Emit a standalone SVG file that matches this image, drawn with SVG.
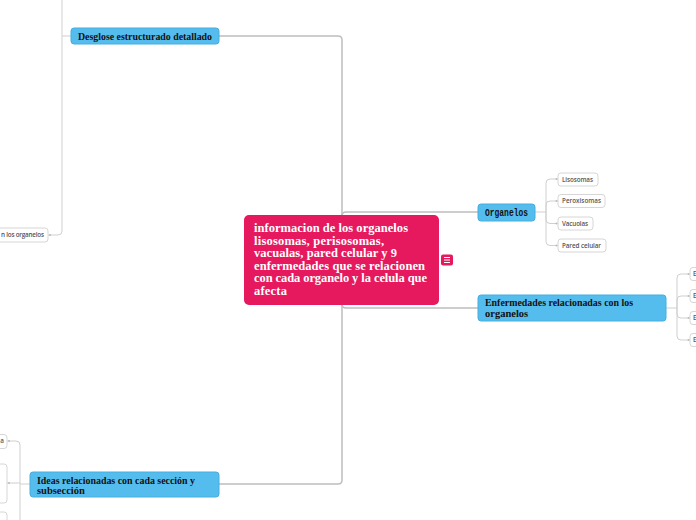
<svg xmlns="http://www.w3.org/2000/svg" width="696" height="520" viewBox="0 0 696 520">
<style>
.trunk{fill:none;stroke:#BDBDBD;stroke-width:1.5}
.thin{fill:none;stroke:#CFCFCF;stroke-width:1}
.dot{fill:#BDBDBD}
.blue{fill:#55BDED;stroke:#45AEE0;stroke-width:1}
.leaf{fill:#FFFFFF;stroke:#D6D6D6;stroke-width:1}
.ct{font-family:"Liberation Serif","DejaVu Serif",serif;font-weight:bold;font-size:12.5px;fill:#FFFFFF}
.bt{font-family:"Liberation Serif","DejaVu Serif",serif;font-weight:bold;font-size:10.5px;fill:#111111}
.mt{font-family:"Liberation Mono","DejaVu Sans Mono",monospace;font-weight:bold;font-size:10.5px;fill:#111111}
.lt{font-family:"Open Sans","Liberation Sans",sans-serif;font-size:6.3px;font-weight:600;fill:#555555}
</style>
<rect width="696" height="520" fill="#FFFFFF"/>
<g id="connectors">
<path class="trunk" d="M342,260 V40 Q342,36 338,36 H219"/>
<path class="trunk" d="M342,260 V216 Q342,212 346,212 H478"/>
<path class="trunk" d="M342,260 V304 Q342,308 346,308 H478"/>
<path class="trunk" d="M342,260 V480 Q342,484 338,484 H219"/>
<path class="thin" d="M535,212 H546"/>
<path class="thin" d="M546,212 V183 Q546,179 550,179 H558"/>
<path class="thin" d="M546,212 V205 Q546,201 550,201 H558"/>
<path class="thin" d="M546,212 V219.5 Q546,223.5 550,223.5 H558"/>
<path class="thin" d="M546,212 V241.5 Q546,245.5 550,245.5 H558"/>
<path class="thin" d="M666,308 H677"/>
<path class="thin" d="M677,308 V278 Q677,274 681,274 H690"/>
<path class="thin" d="M677,308 V300 Q677,296 681,296 H690"/>
<path class="thin" d="M677,308 V314 Q677,318 681,318 H690"/>
<path class="thin" d="M677,308 V336 Q677,340 681,340 H690"/>
<path class="thin" d="M71,36 H62"/>
<path class="thin" d="M62,0 V231 Q62,235 58,235 H48"/>
<path class="thin" d="M30,484 H20"/>
<path class="thin" d="M20,520 V445 Q20,441 16,441 H7"/>
<path class="thin" d="M20,483 H7"/>
<circle class="dot" cx="556.5" cy="179" r="1"/>
<circle class="dot" cx="556.5" cy="201" r="1"/>
<circle class="dot" cx="556.5" cy="223.5" r="1"/>
<circle class="dot" cx="556.5" cy="245.5" r="1"/>
<circle class="dot" cx="688.5" cy="274" r="1"/>
<circle class="dot" cx="688.5" cy="296" r="1"/>
<circle class="dot" cx="688.5" cy="318" r="1"/>
<circle class="dot" cx="688.5" cy="340" r="1"/>
<circle class="dot" cx="50" cy="235" r="1"/>
<circle class="dot" cx="9" cy="441" r="1"/>
<circle class="dot" cx="9" cy="483" r="1"/>
</g>
<g id="central">
<rect x="244" y="215" width="195" height="90" rx="5" fill="#E6195E"/>
<text class="ct" x="254" y="232" textLength="154">informacion de los organelos</text>
<text class="ct" x="254" y="244.5" textLength="130">lisosomas, perisosomas,</text>
<text class="ct" x="254" y="257" textLength="143">vacualas, pared celular y 9</text>
<text class="ct" x="254" y="269.5" textLength="171">enfermedades que se relacionen</text>
<text class="ct" x="254" y="282" textLength="173">con cada organelo y la celula que</text>
<text class="ct" x="254" y="294.5" textLength="33">afecta</text>
</g>
<g id="notes-icon">
<rect x="441" y="254.5" width="12" height="11" rx="2" fill="#E6195E"/>
<path d="M444,257.5 H450 M444,260 H450 M444,262.5 H450" stroke="#FFFFFF" stroke-width="1"/>
</g>
<g id="desglose">
<rect class="blue" x="71" y="28" width="148" height="16" rx="3"/>
<text class="bt" x="78" y="39.5" textLength="134" lengthAdjust="spacingAndGlyphs">Desglose estructurado detallado</text>
</g>
<g id="desglose-child">
<rect class="leaf" x="-20" y="228" width="68" height="14" rx="3"/>
<text class="lt" x="44" y="237.3" text-anchor="end" textLength="43">n los organelos</text>
</g>
<g id="organelos">
<rect class="blue" x="478" y="204" width="57" height="17" rx="3"/>
<text class="mt" x="485" y="216" textLength="43" lengthAdjust="spacingAndGlyphs">Organelos</text>
</g>
<g id="lisosomas">
<rect class="leaf" x="558" y="173" width="40" height="13" rx="3"/>
<text class="lt" x="562" y="181.5" textLength="31">Lisosomas</text>
</g>
<g id="peroxisomas">
<rect class="leaf" x="558" y="194.5" width="47" height="13" rx="3"/>
<text class="lt" x="562" y="203" textLength="39">Peroxisomas</text>
</g>
<g id="vacuolas">
<rect class="leaf" x="558" y="217" width="35" height="13" rx="3"/>
<text class="lt" x="562" y="225.5" textLength="26">Vacuolas</text>
</g>
<g id="pared-celular">
<rect class="leaf" x="558" y="239" width="48" height="13" rx="3"/>
<text class="lt" x="562" y="247.5" textLength="39">Pared celular</text>
</g>
<g id="enfermedades">
<rect class="blue" x="478" y="295" width="188" height="26" rx="3"/>
<text class="bt" x="485" y="305.5" textLength="148" lengthAdjust="spacingAndGlyphs">Enfermedades relacionadas con los</text>
<text class="bt" x="485" y="316.5">organelos</text>
</g>
<g id="enf-1"><rect class="leaf" x="690" y="267.5" width="20" height="13" rx="3"/><text class="lt" x="693" y="276.3">E</text></g>
<g id="enf-2"><rect class="leaf" x="690" y="289.5" width="20" height="13" rx="3"/><text class="lt" x="693" y="298.3">E</text></g>
<g id="enf-3"><rect class="leaf" x="690" y="311.5" width="20" height="13" rx="3"/><text class="lt" x="693" y="320.3">E</text></g>
<g id="enf-4"><rect class="leaf" x="690" y="333.5" width="20" height="13" rx="3"/><text class="lt" x="693" y="342.3">E</text></g>
<g id="ideas">
<rect class="blue" x="30" y="472" width="189" height="25" rx="3"/>
<text class="bt" x="37" y="483.5" textLength="158" lengthAdjust="spacingAndGlyphs">Ideas relacionadas con cada sección y</text>
<text class="bt" x="37" y="493.5">subsección</text>
</g>
<g id="ideas-1"><rect class="leaf" x="-20" y="434.5" width="27" height="14" rx="3"/><text class="lt" x="4" y="443.3" text-anchor="end">a</text></g>
<g id="ideas-2"><rect class="leaf" x="-20" y="464" width="27" height="39" rx="3"/></g>
<g id="ideas-3"><rect class="leaf" x="-20" y="512" width="27" height="20" rx="3"/></g>
</svg>
